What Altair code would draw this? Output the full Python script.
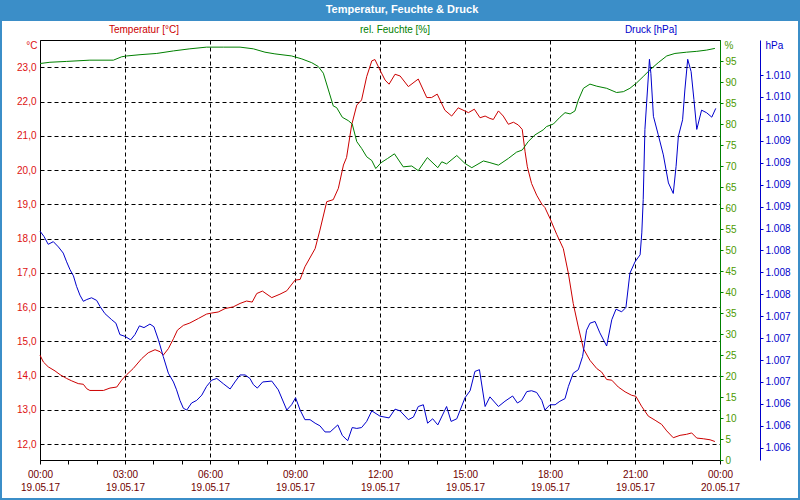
import altair as alt
import pandas as pd

# ---------------- data ----------------
temp_hours = [0.00, 0.12, 0.29, 0.53, 0.71, 0.94, 1.12, 1.35, 1.53, 1.65,
              1.76, 2.24, 2.47, 2.71, 2.88, 3.06, 3.29, 3.59, 3.82, 4.06,
              4.24, 4.35, 4.53, 4.71, 4.85, 5.06, 5.29, 5.59, 5.88, 6.06,
              6.29, 6.53, 6.82, 7.06, 7.29, 7.49, 7.65, 7.85,
              8.18, 8.47, 8.71, 9.00, 9.18, 9.35, 9.71, 9.88, 10.12, 10.35,
              10.53, 10.71, 10.82, 11.00, 11.18, 11.35, 11.53, 11.71, 11.82, 12.00,
              12.18, 12.32, 12.53, 12.71, 13.00, 13.35, 13.65, 13.82, 14.02, 14.29,
              14.53, 14.76, 15.12, 15.33, 15.53, 15.71,
              15.88, 16.00, 16.18, 16.35, 16.53, 16.71, 16.88, 17.02, 17.12, 17.20,
              17.35, 17.53, 17.71, 17.82, 18.00, 18.24, 18.47, 18.65, 18.82, 19.00,
              19.18, 19.41, 19.65, 19.82, 20.00, 20.18, 20.41, 20.65, 20.88, 21.03,
              21.23, 21.47, 21.71, 21.94, 22.12, 22.35, 22.59, 22.82, 23.00, 23.18,
              23.41, 23.65, 23.82]
temp_values = [14.60, 14.40, 14.26, 14.14, 14.03, 13.92, 13.85, 13.77, 13.75, 13.62,
               13.57, 13.57, 13.64, 13.67, 13.87, 14.03, 14.21, 14.50, 14.67, 14.76,
               14.70, 14.60, 14.79, 15.08, 15.33, 15.47, 15.54, 15.67, 15.80, 15.83,
               15.86, 15.96, 16.01, 16.11, 16.18, 16.15, 16.40, 16.47,
               16.28, 16.38, 16.48, 16.79, 16.81, 17.18, 17.71, 18.25, 19.08, 19.14,
               19.47, 20.15, 20.37, 21.32, 21.90, 22.05, 22.73, 23.19, 23.23, 22.92,
               22.63, 22.51, 22.80, 22.75, 22.44, 22.66, 22.12, 22.12, 22.22, 21.75,
               21.58, 21.82, 21.68, 21.78, 21.53, 21.58,
               21.51, 21.48, 21.73, 21.58, 21.34, 21.40, 21.32, 21.19, 20.54, 20.10,
               19.61, 19.27, 19.01, 18.91, 18.59, 18.12, 17.71, 16.98, 16.11, 15.42,
               14.79, 14.45, 14.21, 14.11, 13.89, 13.87, 13.67, 13.53, 13.43, 13.40,
               13.11, 12.82, 12.70, 12.58, 12.39, 12.19, 12.26, 12.29, 12.33, 12.18,
               12.16, 12.13, 12.08]

hum_hours = [0.00, 0.35, 0.94, 1.76, 2.59, 2.88, 3.06, 3.53, 4.12, 4.71,
             5.29, 5.88, 6.47, 7.06, 7.53,
             7.94, 8.29, 8.88, 9.24, 9.59, 9.82, 10.00, 10.18, 10.35, 10.47,
             10.67, 10.88, 11.02, 11.18, 11.35, 11.53, 11.71, 11.85, 12.04, 12.27,
             12.51, 12.82, 13.12, 13.35, 13.67, 14.04, 14.18, 14.35, 14.71, 15.00,
             15.24, 15.65,
             15.88, 16.18, 16.53, 16.82, 17.02, 17.23, 17.47, 17.76, 17.88, 18.12,
             18.35, 18.53, 18.71, 18.88, 19.00, 19.18, 19.41, 19.65, 20.00, 20.35,
             20.59, 20.82, 21.06, 21.29, 21.53, 21.82, 22.12, 22.41, 22.82, 23.18,
             23.53, 23.82]
hum_values = [94.4, 94.7, 94.9, 95.2, 95.2, 96.0, 96.2, 96.5, 96.8, 97.4,
              97.9, 98.3, 98.3, 98.3, 97.9,
              97.1, 96.7, 96.2, 95.5, 94.6, 93.7, 92.1, 88.1, 84.3, 83.9,
              81.6, 80.8, 80.0, 75.8, 74.2, 72.2, 71.3, 69.4, 70.8, 71.8,
              72.9, 69.8, 70.0, 68.9, 72.0, 69.6, 71.0, 70.5, 72.5, 70.6,
              69.6, 71.2,
              70.8, 70.2, 71.8, 73.3, 73.8, 75.8, 77.4, 78.6, 79.4, 80.0,
              81.6, 82.7, 82.4, 83.1, 85.7, 88.5, 89.5, 89.0, 88.5, 87.5,
              87.7, 88.5, 89.8, 91.3, 92.9, 94.6, 96.2, 96.8, 97.1, 97.3,
              97.6, 98.0]

press_hours = [0.00, 0.14, 0.29, 0.47, 0.65, 0.82, 0.94, 1.06, 1.18, 1.29,
               1.41, 1.53, 1.65, 1.82, 2.00, 2.12, 2.29, 2.53, 2.68, 2.82,
               3.00, 3.20, 3.35, 3.51, 3.67, 3.88, 4.02, 4.18, 4.35, 4.53,
               4.71, 4.82, 4.94, 5.06, 5.18, 5.35, 5.53, 5.71, 5.88, 6.06,
               6.24, 6.47, 6.71, 6.88, 7.06, 7.24, 7.41, 7.53, 7.67, 7.86,
               8.18, 8.41, 8.71, 8.88, 9.02, 9.18, 9.35, 9.53, 9.71, 9.88,
               10.06, 10.24, 10.51, 10.67, 10.86, 11.02, 11.18, 11.35, 11.53, 11.71,
               12.00, 12.32, 12.53, 12.71, 13.00, 13.18, 13.35, 13.53, 13.68, 13.86,
               14.04, 14.35, 14.51, 14.71, 15.00, 15.18, 15.35, 15.51, 15.71,
               15.88, 16.18, 16.41, 16.68, 16.85, 17.00, 17.18, 17.35, 17.53, 17.71,
               17.82, 18.00, 18.18, 18.35, 18.53, 18.65, 18.82, 19.00, 19.15, 19.29,
               19.41, 19.59, 19.76, 20.00, 20.18, 20.33, 20.53, 20.68, 20.82, 21.00,
               21.18, 21.24, 21.29, 21.35, 21.41, 21.51, 21.56, 21.65, 21.82, 22.00,
               22.18, 22.35, 22.45, 22.53, 22.68, 22.76, 22.86, 22.98, 23.08, 23.18,
               23.35, 23.53, 23.71, 23.85]
press_values = [1008.22, 1008.16, 1008.07, 1008.10, 1008.04, 1007.97, 1007.87, 1007.78, 1007.71, 1007.59,
                1007.49, 1007.42, 1007.44, 1007.46, 1007.43, 1007.36, 1007.28, 1007.21, 1007.17, 1007.04,
                1007.02, 1006.98, 1007.04, 1007.14, 1007.12, 1007.16, 1007.13, 1006.98, 1006.79, 1006.60,
                1006.50, 1006.41, 1006.29, 1006.20, 1006.18, 1006.26, 1006.29, 1006.35, 1006.45, 1006.52,
                1006.54, 1006.48, 1006.42, 1006.50, 1006.58, 1006.58, 1006.54, 1006.47, 1006.43, 1006.50,
                1006.51, 1006.41, 1006.18, 1006.24, 1006.32, 1006.18, 1006.07, 1006.07, 1006.03, 1006.00,
                1005.93, 1005.93, 1006.01, 1005.89, 1005.83, 1005.98, 1005.97, 1005.98, 1006.05, 1006.17,
                1006.11, 1006.09, 1006.19, 1006.17, 1006.07, 1006.10, 1006.22, 1006.24, 1006.03, 1006.08,
                1006.01, 1006.22, 1006.05, 1006.08, 1006.32, 1006.40, 1006.62, 1006.64, 1006.22,
                1006.33, 1006.22, 1006.28, 1006.34, 1006.26, 1006.29, 1006.39, 1006.40, 1006.38, 1006.29,
                1006.18, 1006.24, 1006.24, 1006.28, 1006.31, 1006.45, 1006.60, 1006.64, 1006.79, 1007.09,
                1007.17, 1007.19, 1007.06, 1006.91, 1007.21, 1007.33, 1007.30, 1007.35, 1007.74, 1007.87,
                1007.95, 1008.20, 1008.58, 1009.38, 1009.68, 1010.18, 1010.02, 1009.53, 1009.32, 1009.09,
                1008.77, 1008.65, 1008.96, 1009.30, 1009.49, 1009.83, 1010.18, 1010.04, 1009.72, 1009.38,
                1009.60, 1009.57, 1009.52, 1009.62]

x_ticks = list(range(0, 25))                     # hours, labelled every 3 h
temp_ticks = list(range(12, 24))                 # °C
hum_ticks = list(range(0, 100, 5))               # %
press_ticks = [1005.75 + 0.25 * i for i in range(18)]  # hPa

title_text = "Temperatur, Feuchte & Druck"
header_text = ["Temperatur [°C]", "rel. Feuchte [%]", "Druck [hPa]"]

# ---------------- styling ----------------
RED, GREEN, BLUE = "#cc0000", "#008000", "#0000cc"
RED_LBL, GREEN_LBL, BLUE_LBL = "#dd1111", "#4c9a00", "#0000cc"
XLBL = "#700000"
BAR = "#3b8ec8"
FONT = "Liberation Sans"

temp_df = pd.DataFrame({"h": temp_hours, "v": temp_values})
hum_df = pd.DataFrame({"h": hum_hours, "v": hum_values})
press_df = pd.DataFrame({"h": press_hours, "v": press_values})
one = pd.DataFrame({"k": [0]})

x_enc = alt.X(
    "h:Q",
    scale=alt.Scale(domain=[0, 24], nice=False, zero=False),
    axis=alt.Axis(
        values=x_ticks,
        title=None,
        grid=True,
        gridColor="black",
        gridDash=[4, 3],
        gridOpacity={"condition": {"test": "datum.value % 3 === 0 && datum.value > 0 && datum.value < 24", "value": 1}, "value": 0},
        domainColor="black",
        tickColor="black",
        tickSize=4,
        labelExpr="datum.value % 3 === 0 ? [format(datum.value % 24, '02d') + ':00', datum.value >= 24 ? '20.05.17' : '19.05.17'] : ''",
        labelColor=XLBL,
        labelFont=FONT,
        labelFontSize=10,
        labelPadding=5,
        labelLineHeight=13,
        labelBaseline="top",
        labelFlush=False,
        labelOverlap=False,
    ),
)

temp_line = alt.Chart(temp_df).mark_line(color=RED, strokeWidth=1).encode(
    x=x_enc,
    y=alt.Y(
        "v:Q",
        scale=alt.Scale(domain=[11.54, 23.80], nice=False, zero=False),
        axis=alt.Axis(
            orient="left",
            values=temp_ticks,
            grid=True,
            gridColor="black",
            gridDash=[4, 3],
            ticks=False,
            domainColor="black",
            labelColor=RED_LBL,
            labelFont=FONT,
            labelFontSize=10,
            labelPadding=4,
            labelExpr="replace(format(datum.value, '.1f'), '.', ',')",
            title="°C",
            titleAngle=0,
            titleX=-3,
            titleY=5,
            titleAlign="right",
            titleBaseline="middle",
            titleColor=RED_LBL,
            titleFont=FONT,
            titleFontSize=10,
            titleFontWeight="normal",
        ),
    ),
)

hum_line = alt.Chart(hum_df).mark_line(color=GREEN, strokeWidth=1).encode(
    x=x_enc,
    y=alt.Y(
        "v:Q",
        scale=alt.Scale(domain=[0, 100], nice=False, zero=False),
        axis=alt.Axis(
            orient="right",
            values=hum_ticks,
            grid=False,
            domainColor=GREEN,
            tickColor=GREEN,
            tickSize=3,
            labelColor=GREEN_LBL,
            labelFont=FONT,
            labelFontSize=10,
            labelPadding=2,
            title="%",
            titleAngle=0,
            titleX=4,
            titleY=5,
            titleAlign="left",
            titleBaseline="middle",
            titleColor=GREEN_LBL,
            titleFont=FONT,
            titleFontSize=10,
            titleFontWeight="normal",
        ),
    ),
)

press_line = alt.Chart(press_df).mark_line(color=BLUE, strokeWidth=1).encode(
    x=x_enc,
    y=alt.Y(
        "v:Q",
        scale=alt.Scale(domain=[1005.61, 1010.40], nice=False, zero=False),
        axis=alt.Axis(
            orient="right",
            offset=40,
            values=press_ticks,
            grid=False,
            domainColor=BLUE,
            tickColor=BLUE,
            tickSize=3,
            labelColor=BLUE_LBL,
            labelFont=FONT,
            labelFontSize=10,
            labelPadding=2,
            labelExpr="replace(format(datum.value, ',.0f'), ',', '.')",
            labelOverlap=False,
            title="hPa",
            titleAngle=0,
            titleX=5,
            titleY=5,
            titleAlign="left",
            titleBaseline="middle",
            titleColor=BLUE_LBL,
            titleFont=FONT,
            titleFontSize=10,
            titleFontWeight="normal",
        ),
    ),
)

# decoration: title bar, frame and header captions
bar = alt.Chart(one).mark_rect(color=BAR).encode(
    x=alt.value(-40), x2=alt.value(760), y=alt.value(-40), y2=alt.value(-19)
)
frame = alt.Chart(one).mark_rect(filled=False, stroke=BAR, strokeWidth=2).encode(
    x=alt.value(-39), x2=alt.value(759), y=alt.value(-39), y2=alt.value(459)
)
title = alt.Chart(one).mark_text(
    color="white", fontWeight="bold", fontSize=11, font=FONT, align="center", baseline="middle"
).encode(x=alt.value(362), y=alt.value(-30), text=alt.value(title_text))

h1 = alt.Chart(one).mark_text(color=RED, fontSize=10, font=FONT, align="center", baseline="middle").encode(
    x=alt.value(104), y=alt.value(-10), text=alt.value(header_text[0]))
h2 = alt.Chart(one).mark_text(color=GREEN, fontSize=10, font=FONT, align="center", baseline="middle").encode(
    x=alt.value(355), y=alt.value(-10), text=alt.value(header_text[1]))
h3 = alt.Chart(one).mark_text(color=BLUE, fontSize=10, font=FONT, align="center", baseline="middle").encode(
    x=alt.value(611), y=alt.value(-10), text=alt.value(header_text[2]))

chart = (
    alt.layer(bar, frame, title, h1, h2, h3, temp_line, hum_line, press_line)
    .resolve_scale(y="independent")
    .properties(
        width=680,
        height=420,
        autosize=alt.AutoSizeParams(type="none"),
        padding={"left": 40, "top": 40, "right": 80, "bottom": 40},
        background="white",
    )
    .configure_view(stroke="black", strokeWidth=1)
)

chart.save("out.html", embed_options={"renderer": "svg", "actions": False})
